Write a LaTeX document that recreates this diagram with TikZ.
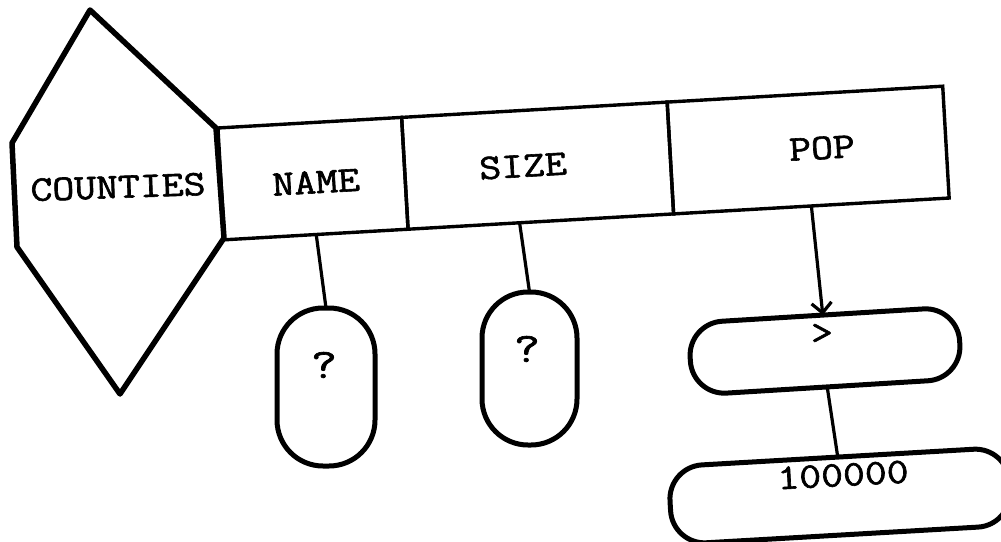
\documentclass[tikz,border=0pt]{standalone}
\usepackage{graphicx}
\usepackage{fontspec}
\newfontfamily\tyfont{Latin Modern Mono}[FakeBold=1.6]
\usetikzlibrary{arrows.meta,calc}
\newcommand{\tw}[1]{\scalebox{1.18}[1]{#1}}
\begin{document}
\begin{tikzpicture}[x=1pt,y=-1pt,
  lbl/.style={font=\fontsize{36}{40}\selectfont\tyfont, inner sep=0pt},
  cell/.style={draw, line width=3.4pt, rotate=3.3, minimum height=112pt, inner sep=0pt, outer sep=0pt},
  vblob/.style={draw, line width=5pt, rounded corners=46pt, inner sep=0pt, outer sep=0pt},
  hblob/.style={draw, line width=5pt, rounded corners=34pt, inner sep=0pt, outer sep=0pt},
  link/.style={line width=3.2pt}]
\useasboundingbox (0,0) rectangle (1001,541);
% hexagon
\draw[line width=5.5pt, line join=round] (90,10) coordinate (h1) -- (216,128) coordinate (h2)
  -- (224,238) coordinate (h3) -- (120,394) coordinate (h4) -- (17,247) coordinate (h5)
  -- (12,143) coordinate (h6) -- cycle;
\node[lbl, rotate=2] (counties) at (118,187) {\tw{COUNTIES}};
% table
\node[cell, minimum width=184pt] (name) at (313,178.6) {};
\node[cell, minimum width=266pt, anchor=west] (size) at (name.east) {};
\node[cell, minimum width=276pt, anchor=west] (pop) at (size.east) {};
\node[lbl, rotate=3.3] (tname) at (316,182) {\tw{NAME}};
\node[lbl, rotate=3.3] (tsize) at (523,166) {\tw{SIZE}};
\node[lbl, rotate=3.3] (tpop) at (822,148) {\tw{POP}};
% value ovals
\node[vblob, minimum width=98pt, minimum height=158pt] (q1) at (326,387) {};
\node[lbl, font=\fontsize{42}{46}\selectfont\tyfont] (q1t) at (324,365) {\tw{?}};
\node[vblob, minimum width=95pt, minimum height=153pt] (q2) at (529.5,368.5) {};
\node[lbl, font=\fontsize{42}{46}\selectfont\tyfont] (q2t) at (527,349) {\tw{?}};
\node[hblob, rotate=3.5, minimum width=270pt, minimum height=72pt] (gt) at (825,351) {};
\node[lbl] (gtt) at (822,334) {\tw{>}};
\node[hblob, rotate=3.3, minimum width=340pt, minimum height=78pt] (big) at (840,496) {};
\node[lbl, rotate=3] (bigt) at (843,475) {\tw{100000}};
% connectors
\draw[link] (name.south) -- (q1.north);
\draw[link] ($(size.south west)!0.42!(size.south east)$) -- (q2.north);
\draw[link, -{Straight Barb[length=10pt,width=20pt]}] (pop.south) -- (gt.north);
\draw[link] (gt.south) -- (big.north);
\end{tikzpicture}
\end{document}
